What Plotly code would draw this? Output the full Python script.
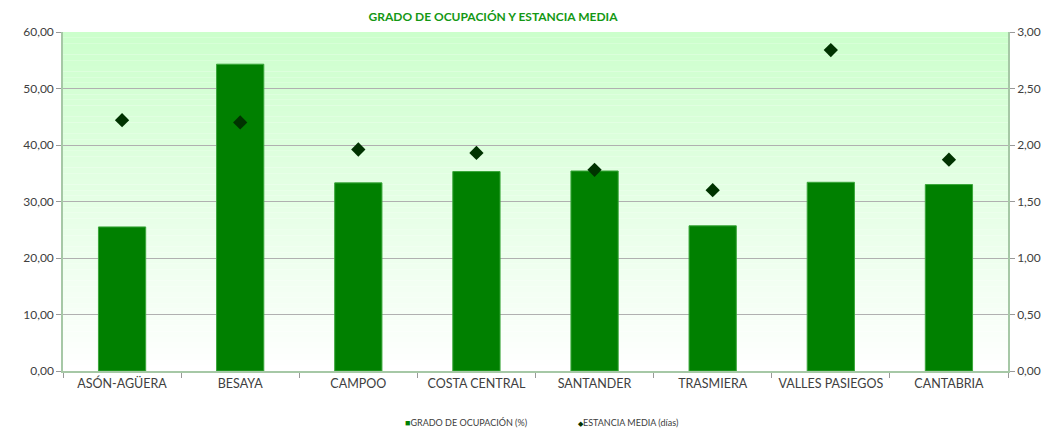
import plotly.graph_objects as go

categories = ["ASÓN-AGÜERA", "BESAYA", "CAMPOO", "COSTA CENTRAL", "SANTANDER",
              "TRASMIERA", "VALLES PASIEGOS", "CANTABRIA"]
ocupacion = [25.5, 54.3, 33.3, 35.3, 35.4, 25.7, 33.4, 33.0]
estancia = [2.22, 2.20, 1.96, 1.93, 1.78, 1.60, 2.84, 1.87]
left_ticks = [0, 10, 20, 30, 40, 50, 60]
right_ticks = [0, 0.5, 1.0, 1.5, 2.0, 2.5, 3.0]
legend_labels = ["GRADO DE OCUPACIÓN (%)", "ESTANCIA MEDIA (días)"]

FONT = "Century Gothic, URW Gothic, Lato, sans-serif"
BAR_COLOR = "#008000"
DOT_COLOR = "#003300"

# page body has an 8px default margin; compensate so the plot lands where the reference has it
W, H = 1047, 422

fig = go.Figure()
fig.add_trace(go.Bar(
    x=categories, y=ocupacion, name=legend_labels[0],
    marker=dict(color=BAR_COLOR, line=dict(color="#3aa63a", width=1)),
    width=0.4,
))
fig.add_trace(go.Scatter(
    x=categories, y=estancia, name=legend_labels[1], yaxis="y2",
    mode="markers", marker=dict(symbol="diamond", size=11, color=DOT_COLOR),
))

# vertical gradient background (light green top -> white bottom)
n = 60
top = (204, 255, 204)
for i in range(n):
    t = (i + 0.5) / n
    c = tuple(round(255 + (tc - 255) * t) for tc in top)
    fig.add_shape(type="rect", xref="x domain", yref="y domain",
                  x0=0, x1=1, y0=i / n, y1=(i + 1) / n,
                  fillcolor="rgb(%d,%d,%d)" % c, line=dict(width=0), layer="below")

# legend drawn as text below the chart
fig.add_annotation(xref="paper", yref="paper", x=(466 - 63) / 945, y=-0.153,
                   text="<span style='color:%s'>■</span>%s" % (BAR_COLOR, legend_labels[0]),
                   showarrow=False, xanchor="center", yanchor="middle",
                   font=dict(family=FONT, size=9, color="#404040"))
fig.add_annotation(xref="paper", yref="paper", x=(628 - 63) / 945, y=-0.153,
                   text="<span style='color:%s;font-size:7px'>◆</span>%s" % (DOT_COLOR, legend_labels[1]),
                   showarrow=False, xanchor="center", yanchor="middle",
                   font=dict(family=FONT, size=9, color="#404040"))

axis_line = "#a6c8a6"
fig.update_layout(
    width=W, height=H,
    margin=dict(l=55, r=47, t=24, b=59),
    paper_bgcolor="white", plot_bgcolor="white",
    separators=",.",
    showlegend=False,
    font=dict(family=FONT, size=12, color="#404040"),
    title=dict(text="<b>GRADO DE OCUPACIÓN Y ESTANCIA MEDIA</b>",
               x=485 / W, xanchor="center", y=1 - 9 / H, yanchor="middle",
               pad=dict(t=0, b=0),
               font=dict(family=FONT, size=12, color="#149814")),
    xaxis=dict(showline=True, linecolor=axis_line, linewidth=1.5,
               ticks="outside", tickson="boundaries", ticklen=5, tickcolor="#999999",
               tickfont=dict(size=12.5, color="#404040"), showgrid=False),
    yaxis=dict(range=[0, 60], tickvals=left_ticks, tickformat=".2f",
               showline=True, linecolor=axis_line, linewidth=1.5,
               ticks="outside", ticklen=5, tickcolor="#999999",
               showgrid=True, gridcolor="#b0b0b0", gridwidth=1.2,
               zeroline=False, tickfont=dict(size=12, color="#404040")),
    yaxis2=dict(range=[0, 3], tickvals=right_ticks, tickformat=".2f",
                overlaying="y", side="right",
                showline=True, linecolor=axis_line, linewidth=1.5,
                ticks="outside", ticklen=5, tickcolor="#999999",
                showgrid=False, zeroline=False,
                tickfont=dict(size=12, color="#404040")),
    bargap=0.6,
)

fig.write_html("out.html")
